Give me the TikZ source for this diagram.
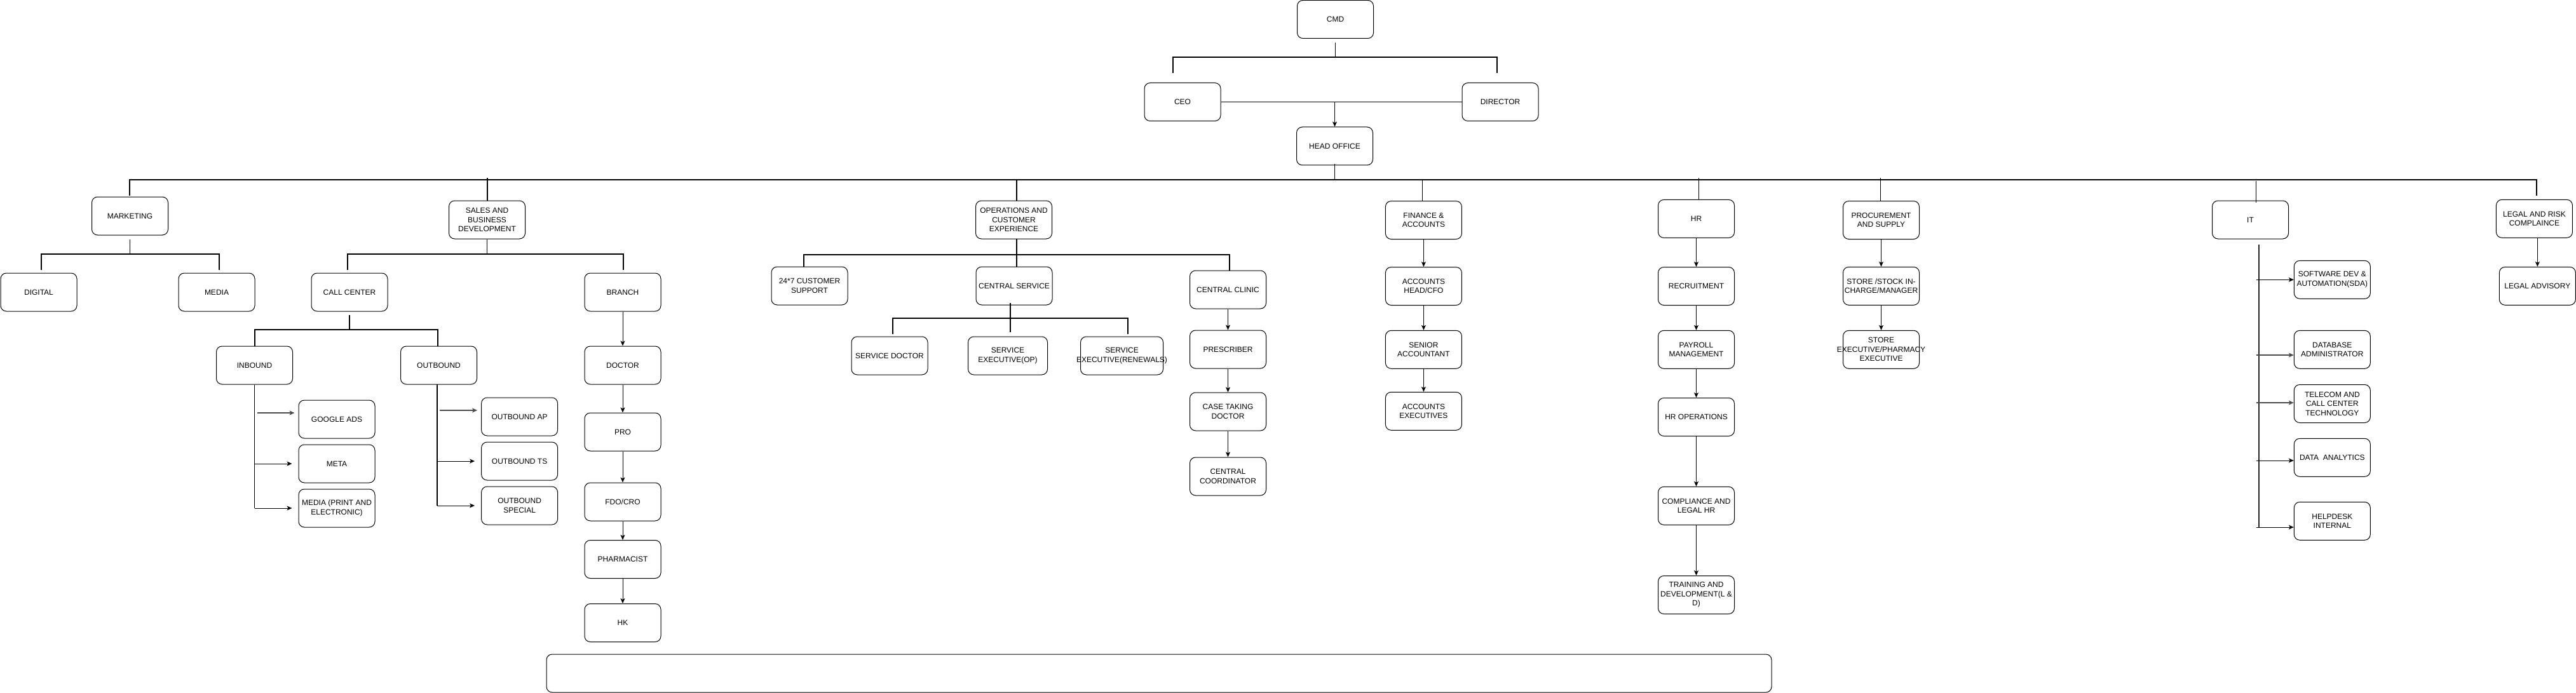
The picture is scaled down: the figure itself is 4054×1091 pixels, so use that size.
\documentclass[tikz,border=0pt]{standalone}
\usepackage{fontspec}
\setmainfont{Liberation Sans}
\usetikzlibrary{arrows.meta}
\newcommand\orgfont{\fontsize{12}{14.5}\selectfont}
\begin{document}
\begin{tikzpicture}[x=1pt,y=-1pt,
  box/.style={draw, line width=1pt, rounded corners=9pt, minimum width=120pt, minimum height=60pt, inner sep=0pt, align=center, font=\orgfont},
  brk/.style={line width=2pt},
  stem/.style={line width=1.5pt},
  thin/.style={line width=1pt},
  arr/.style={line width=1pt, -{Stealth[length=8pt,width=7pt,inset=2pt]}},
  garr/.style={arr, line width=1.6pt, draw=black!70}]
\fill[white] (0,0) rectangle (4054,1091);
\useasboundingbox (0,0) rectangle (4054,1091);

% top level
\node[box] (cmd) at (2101.5,30.5) {CMD};
\node[box] (ceo) at (1861,160.5) {CEO};
\node[box] (dir) at (2361,160.5) {DIRECTOR};
\node[box] (ho) at (2100.5,230) {HEAD OFFICE};

% departments
\node[box] (mkt) at (204.5,340) {MARKETING};
\node[box] (sales) at (766.5,346) {SALES AND\\BUSINESS\\DEVELOPMENT};
\node[box] (ops) at (1595.5,346) {OPERATIONS AND\\CUSTOMER\\EXPERIENCE};
\node[box] (fin) at (2240.4,346.5) {FINANCE \&\\ACCOUNTS};
\node[box] (hr) at (2669.5,344.4) {HR};
\node[box] (proc) at (2960.5,346.5) {PROCUREMENT\\AND SUPPLY};
\node[box] (it) at (3541.5,346) {IT};
\node[box] (legal) at (3988.4,344.3) {LEGAL AND RISK\\COMPLAINCE};

% marketing / sales
\node[box] (digital) at (61,460) {DIGITAL};
\node[box] (media) at (341,460) {MEDIA};
\node[box] (callc) at (550,460) {CALL CENTER};
\node[box] (branch) at (980,460) {BRANCH};
\node[box] (inb) at (400.5,575) {INBOUND};
\node[box] (outb) at (690.5,575) {OUTBOUND};
\node[box] (gads) at (530,660) {GOOGLE ADS};
\node[box] (meta) at (530,730) {META};
\node[box] (mediape) at (530,800) {MEDIA (PRINT AND\\ELECTRONIC)};
\node[box] (oap) at (817.6,656) {OUTBOUND AP};
\node[box] (ots) at (817.6,726) {OUTBOUND TS};
\node[box] (osp) at (817.6,796) {OUTBOUND\\SPECIAL};
\node[box] (doctor) at (980,575) {DOCTOR};
\node[box] (pro) at (980,680) {PRO};
\node[box] (fdo) at (980,790) {FDO/CRO};
\node[box] (pharm) at (980,880.5) {PHARMACIST};
\node[box] (hk) at (980,980.5) {HK};

% operations
\node[box] (cs247) at (1274,450) {24*7 CUSTOMER\\SUPPORT};
\node[box] (csvc) at (1596,450) {CENTRAL SERVICE};
\node[box] (cclinic) at (1932.5,456) {CENTRAL CLINIC};
\node[box] (sdoc) at (1400,560) {SERVICE DOCTOR};
\node[box, minimum width=125pt] (seop) at (1586,560) {SERVICE\\EXECUTIVE(OP)};
\node[box, minimum width=130pt] (seren) at (1765.5,560) {SERVICE\\\makebox[0pt]{EXECUTIVE(RENEWALS)}};
\node[box] (presc) at (1932.5,550) {PRESCRIBER};
\node[box] (ctd) at (1932.5,648) {CASE TAKING\\DOCTOR};
\node[box] (ccoord) at (1932.5,750) {CENTRAL\\COORDINATOR};

% finance
\node[box] (acchead) at (2240.4,450.5) {ACCOUNTS\\HEAD/CFO};
\node[box] (sracc) at (2240.4,550.3) {SENIOR\\ACCOUNTANT};
\node[box] (accexe) at (2240.4,647.3) {ACCOUNTS\\EXECUTIVES};

% hr
\node[box] (recr) at (2669.5,450.5) {RECRUITMENT};
\node[box] (payroll) at (2669.5,550.3) {PAYROLL\\MANAGEMENT};
\node[box] (hrops) at (2669.5,656.5) {HR OPERATIONS};
\node[box] (compl) at (2669.5,796.3) {COMPLIANCE AND\\LEGAL HR};
\node[box] (train) at (2669.5,936.5) {TRAINING AND\\DEVELOPMENT(L \&\\D)};

% procurement
\node[box] (store) at (2960.5,450.3) {STORE /STOCK IN-\\CHARGE/MANAGER};
\node[box] (storeexe) at (2960.5,550.3) {STORE\\\makebox[0pt]{EXECUTIVE/PHARMACY}\\EXECUTIVE};

% IT
\node[box] (sda) at (3670.3,440.3) {SOFTWARE DEV \&\\AUTOMATION(SDA)};
\node[box] (dba) at (3670.3,550.3) {DATABASE\\ADMINISTRATOR};
\node[box] (tel) at (3670.3,635.5) {TELECOM AND\\CALL CENTER\\TECHNOLOGY};
\node[box] (dana) at (3670.3,720.3) {DATA\ \ ANALYTICS};
\node[box] (help) at (3670.3,820.3) {HELPDESK\\INTERNAL};

% legal
\node[box] (legadv) at (3993.3,450.3) {LEGAL ADVISORY};

% empty footer box
\node[box, minimum width=1928pt] (footer) at (1824,1060) {};

% ---- CMD bracket
\coordinate (cmdbar) at (2101.5,90);
\coordinate (ceoD) at (1846,115);
\coordinate (dirD) at (2356,115);
\draw[stem] ([yshift=-6pt]cmd.south) -- (cmd.south |- cmdbar);
\draw[brk] (ceoD) |- (cmdbar) -| (dirD);

% CEO - DIRECTOR and arrow to head office
\draw[thin] (ceo) -- (dir);
\draw[arr] (ceo -| ho) -- (ho);

% ---- main bar
\coordinate (mbar) at (2100.5,283);
\coordinate (mL) at (204,308);
\coordinate (mR) at (3992,308);
\draw[stem] ([yshift=2pt]ho.south) -- (ho.south |- mbar);
\draw[brk] (mL) |- (mbar) -| (mR);
\coordinate (sT) at (767,280);
\coordinate (oT) at (1600,283);
\coordinate (fT) at (2238.5,283);
\coordinate (hT) at (2673,280);
\coordinate (pT) at (2959.5,280);
\coordinate (iT) at (3550,285);
\draw[stem] (sT) -- (sT |- sales.north);
\draw[stem] (oT) -- (oT |- ops.north);
\draw[thin] (fT) -- (fT |- fin.north);
\draw[thin] (hT) -- (hT |- hr.north);
\draw[thin] (pT) -- (pT |- proc.north);
\draw[thin] (iT) -- ([yshift=-3pt]iT |- it.north);

% ---- marketing bracket
\coordinate (mktbar) at (205,400);
\coordinate (digD) at (64.5,425);
\coordinate (medD) at (345,425);
\draw[stem] ([yshift=-6pt]mkt.south) -- (mkt.south |- mktbar);
\draw[brk] (digD) |- (mktbar) -| (medD);

% ---- sales bracket
\coordinate (salesbar) at (765,400);
\coordinate (ccD) at (547,425);
\coordinate (brD) at (981,425);
\draw[stem] (sales.south) -- (sales.south |- salesbar);
\draw[brk] (ccD) |- (salesbar) -| (brD);

% ---- call center bracket
\coordinate (ccbar) at (546,519);
\coordinate (inD) at (401,545);
\coordinate (outD) at (689,545);
\draw[stem] ([yshift=-5pt]callc.south) -- (callc.south |- ccbar);
\draw[brk] (inD) |- (ccbar) -| (outD);

% inbound
\draw[stem] (inb.south) -- (inb.south |- mediape);
\coordinate (ga) at (405,650);
\draw[garr, shorten >=6pt] (ga) -- (ga -| gads.west);
\draw[arr, shorten >=10pt] (meta -| inb.south) -- (meta.west);
\draw[arr, shorten >=10pt] (mediape -| inb.south) -- (mediape.west);

% outbound
\coordinate (obx) at (688,605);
\draw[stem] (obx) -- (obx |- osp);
\coordinate (oa) at (692,646);
\draw[garr, shorten >=6pt] (oa) -- (oa -| oap.west);
\draw[arr, shorten >=10pt] (ots -| obx) -- (ots.west);
\draw[arr, shorten >=10pt] (osp -| obx) -- (osp.west);

% branch chain
\draw[arr] (branch) -- (doctor);
\draw[arr] (doctor) -- (pro);
\draw[arr] (pro) -- (fdo);
\draw[arr] (fdo) -- (pharm);
\draw[arr] (pharm) -- (hk);

% ---- operations bracket
\coordinate (opsbar) at (1600,401);
\coordinate (c247D) at (1265,420);
\coordinate (clinD) at (1935,426);
\coordinate (opsS) at (1600,376);
\draw[stem] (opsS) -- (opsS |- csvc.north);
\draw[brk] (c247D) |- (opsbar) -| (clinD);

% central service bracket
\coordinate (csbar) at (1590,501);
\coordinate (sdD) at (1405,526);
\coordinate (serD) at (1775,526);
\coordinate (csS) at (1590,477);
\coordinate (csE) at (1590,523);
\draw[stem] (csS) -- (csE);
\draw[brk] (sdD) |- (csbar) -| (serD);

% central clinic chain
\draw[arr] (cclinic) -- (presc);
\draw[arr] (presc) -- (ctd);
\draw[arr] (ctd) -- (ccoord);

% finance chain
\draw[arr] (fin) -- (acchead);
\draw[arr] (acchead) -- (sracc);
\draw[arr] (sracc) -- (accexe);

% hr chain
\draw[arr] (hr) -- (recr);
\draw[arr] (recr) -- (payroll);
\draw[arr] (payroll) -- (hrops);
\draw[arr] (hrops) -- (compl);
\draw[arr] (compl) -- (train);

% procurement chain
\draw[arr] (proc) -- (store);
\draw[arr] (store) -- (storeexe);

% legal
\draw[arr] (legal.south -| legadv) -- (legadv);

% IT
\coordinate (itv) at (3555,385);
\coordinate (itb) at (3555,830);
\draw[stem, draw=black!85] (itv) -- (itb);
\coordinate (a1) at (3550.5,440.3);
\coordinate (a2) at (3550.5,559);
\coordinate (a3) at (3550.5,634);
\coordinate (a4) at (3550.5,725);
\coordinate (a5) at (3550.5,830);
\draw[arr] (a1) -- (a1 -| sda.west);
\draw[garr] (a2) -- (a2 -| dba.west);
\draw[garr] (a3) -- (a3 -| tel.west);
\draw[arr] (a4) -- (a4 -| dana.west);
\draw[arr] (a5) -- (a5 -| help.west);
\end{tikzpicture}
\end{document}
